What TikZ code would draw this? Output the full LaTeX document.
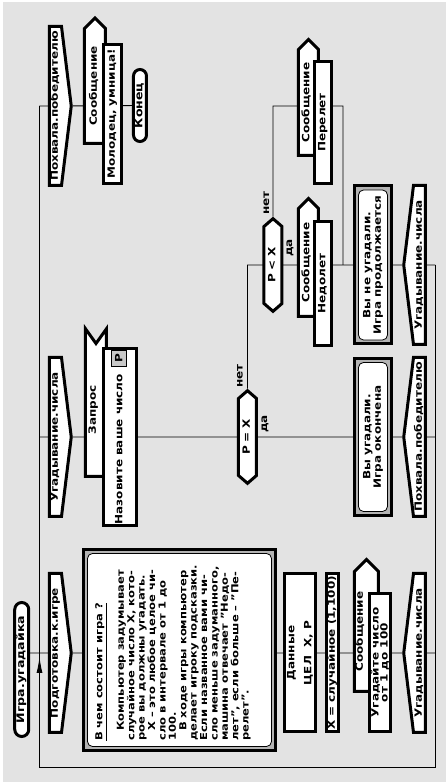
\documentclass[tikz,border=0pt]{standalone}
\usepackage{fontspec}
\setsansfont{DejaVu Sans}[FakeStretch=1.2]
\usetikzlibrary{shapes.symbols,arrows.meta}
\definecolor{panel}{HTML}{E3E3E3}
\definecolor{band}{HTML}{B4B4B4}
\definecolor{pbox}{HTML}{C8C8C8}
\pgfdeclarelayer{back}
\pgfsetlayers{back,main}
\tikzset{
  icon/.style={draw, line width=3pt, fill=white, inner sep=1pt},
  op/.style={icon, rectangle, text height=7pt, text depth=2pt},
  term/.style={op, rounded corners=7pt, minimum height=14pt,
    font=\fontsize{10.5}{11}\sffamily\bfseries},
  head/.style={
    icon, signal, signal to=south, signal pointer angle=166,
    minimum width=159pt, inner ysep=1.5pt, inner xsep=0.5pt,
    text height=7pt, text depth=2pt,
  },
  addr/.style={head, signal to=north},
  quest/.style={
    icon, signal, signal to=east and west, signal pointer angle=98,
    minimum height=18pt, text width=77pt, inner xsep=0pt, align=center,
    text height=7pt, text depth=2pt,
  },
  dev/.style={icon, signal, signal to=east, signal pointer angle=90,
    inner xsep=0pt, text height=7pt, align=center},
  input/.style={icon, signal, signal to=nowhere, signal from=east,
    signal pointer angle=71, inner xsep=0pt, text height=7pt, align=center},
  frame/.style={draw, line width=3pt, fill=band},
  card/.style={draw, line width=0.8pt, fill=white, rounded corners=5pt, align=center},
  tag/.style={inner sep=0pt},
  line/.style={draw, line width=0.9pt}
}
\begin{document}
\begin{tikzpicture}[rotate=90, transform shape, x=1pt, y=1pt,
  font=\fontsize{10}{10.5}\sffamily\bfseries]
\useasboundingbox (0,0) rectangle (782,446);
% branch 1
\node [term, minimum width=134pt] (title) at (112.5,424.25) {Игра.угадайка};
\node [head] (h1) at (129,390.5) {Подготовка.к.игре};
\node [frame, minimum width=201pt, minimum height=192pt] (note) at (132,266.5) {};
\node [card, minimum width=193pt, minimum height=184pt] (notecard) at (note) {};
\node [tag, anchor=north west, align=left, font=\fontsize{9.6}{10.4}\sffamily\bfseries] (notetext) at (41,351) {%
\underline{В чем состоит игра ?}\\[9.6pt]
\hspace*{10pt}Компьютер задумывает\\
случайное число Х, кото-\\
рое вы должны угадать.\\
\hspace*{10pt}Х – это любое целое чи-\\
сло в интервале от 1 до\\
100.\\
\hspace*{10pt}В ходе игры компьютер\\
делает игроку подсказки.\\
Если названное вами чи-\\
сло меньше задуманного,\\
машина отвечает "Недо-\\
лет", если больше – "Пе-\\
релет".};
\node [icon, rectangle, minimum width=158pt, minimum height=31pt, align=center] (data) at (129,146) {Данные\\[6.5pt]ЦЕЛ\ \ X, P};
\node [op, minimum width=158pt, minimum height=12pt] (rnd) at (129,113.5) {X = случайное (1,100)};
\node [dev, text width=120pt, minimum height=24pt, text depth=14pt] (dev1) at (150.5,79.5) {Сообщение};
\node [icon, rectangle, minimum width=138pt, minimum height=21pt, align=center,
  font=\fontsize{10}{9}\sffamily\bfseries] (msg1) at (119.5,66) {Угадайте число\\от 1 до 100};
\node [addr] (e1) at (129,26.5) {Угадывание.числа};
% branch 2
\node [head] (h2) at (345,390.5) {Угадывание.числа};
\node [input, text width=133pt, minimum height=21pt, text depth=7pt] (ask) at (372,350) {Запрос};
\node [op, minimum width=157pt, minimum height=33pt] (prompt) at (345,326)
  {Назовите ваше число\hspace{7pt}{\fboxsep=3.5pt\fboxrule=0.8pt\fcolorbox{black}{pbox}{P}}};
\node [quest] (d1) at (345,198.5) {P = X};
\node [tag] (no1) at (406,206) {нет};
\node [tag] (yes1) at (358,181) {да};
\node [frame, minimum width=157pt, minimum height=37pt] (winframe) at (345,73) {};
\node [card, minimum width=149pt, minimum height=29pt] (win) at (winframe) {Вы угадали.\\Игра окончена};
\node [addr] (e2) at (345,26.5) {Похвала.победителю};
\node [quest] (d2) at (517,173) {P < X};
\node [tag] (no2) at (579,179.5) {нет};
\node [tag] (yes2) at (534,156) {да};
\node [dev, text width=108pt, minimum height=20pt, text depth=5pt] (dev2) at (519.5,137.5) {Сообщение};
\node [op, minimum width=124pt, minimum height=17pt] (short) at (498.5,123) {Недолет};
\node [dev, text width=106pt, minimum height=20pt, text depth=5pt] (dev3) at (679.5,137.5) {Сообщение};
\node [op, minimum width=122pt, minimum height=17pt] (over) at (659.5,123) {Перелет};
\node [frame, minimum width=158pt, minimum height=37pt] (loseframe) at (517,73) {};
\node [card, minimum width=150pt, minimum height=29pt] (lose) at (loseframe) {Вы не угадали.\\Игра продолжается};
\node [addr] (e3) at (517,26.5) {Угадывание.числа};
% branch 3
\node [head] (h3) at (676,390.5) {Похвала.победителю};
\node [dev, text width=115pt, minimum height=21pt, text depth=3pt] (dev4) at (696,351) {Сообщение};
\node [op, minimum width=139pt, minimum height=18pt] (praise) at (668,333.5) {Молодец, умница!};
\node [term, minimum width=72pt, minimum height=13pt, rounded corners=6.5pt] (fin) at (676.5,306) {Конец};
% silhouette lines
\coordinate (tl) at (14.5,406.5);
\coordinate (bl) at (14.5,10.5);
\coordinate (ar) at (125,406.5);
\coordinate (t1) at (129,424);
\coordinate (j1) at (129,406.5);
\coordinate (j2) at (345,406.5);
\coordinate (j3) at (676,406.5);
\coordinate (k1) at (129,10.5);
\coordinate (k2) at (345,10.5);
\coordinate (k3) at (517,10.5);
\coordinate (n1) at (517,198.5);
\coordinate (n2) at (676,173);
\coordinate (m2) at (676,103);
\coordinate (m1) at (517,103);
\begin{pgfonlayer}{back}
\fill [panel] (0,0) rectangle (780,443);
\path [line] (j3) -- (tl) -- (bl) -- (k3);
\path [line, -{Latex[length=16pt,width=6pt]}] (tl) -- (ar);
\path [line] (t1) -- (h1) -- (e1) -- (k1);
\path [line] (j2) -- (h2) -- (e2) -- (k2);
\path [line] (d1) -- (n1) -- (e3) -- (k3);
\path [line] (d2) -- (n2) -- (m2) -- (m1);
\path [line] (j3) -- (h3) -- (fin);
\end{pgfonlayer}
\end{tikzpicture}
\end{document}
